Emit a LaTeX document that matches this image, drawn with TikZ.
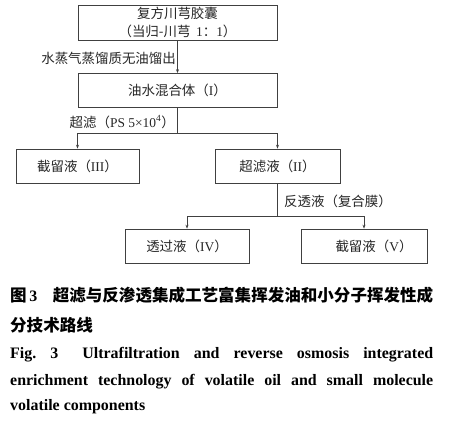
\documentclass[tikz,border=0pt]{standalone}
\usepackage{fontspec}
\setmainfont{Liberation Serif}
\newfontfamily\cn{Noto Sans CJK SC}
\usetikzlibrary{arrows.meta}
\begin{document}
\begin{tikzpicture}[x=1bp,y=-1bp,
  box/.style={draw=black!75, line width=0.7bp, minimum height=34bp, inner sep=0pt,
    font=\fontsize{13.5}{18}\selectfont, text=black!85, align=center},
  conn/.style={draw=black!75, line width=0.7bp},
  arr/.style={conn, -{Stealth[length=4bp,width=3bp]}},
  lbl/.style={inner sep=0pt, font=\fontsize{13.5}{16}\selectfont, text=black!85},
  captxt/.style={inner sep=0pt, anchor=base west, font=\fontsize{16}{20}\selectfont\bfseries}]
\useasboundingbox[fill=white] (0,0) rectangle (450,422);
\node[box, minimum width=199bp, minimum height=35bp] (b0) at (177.5,22.5)
  {{\cn 复方川芎胶囊}\\{\cn （当归-川芎}\,~1{\cn ：}1{\cn ）}};
\node[box, minimum width=199bp] (b1) at (177.5,90.5) {{\cn 油水混合体（}I{\cn ）}};
\node[box, minimum width=123bp] (b3) at (77.5,166) {{\cn 截留液（}III{\cn ）}};
\node[box, minimum width=125bp] (b2) at (277.5,166) {{\cn 超滤液（}II{\cn ）}};
\node[box, minimum width=124bp] (b4) at (187,246) {{\cn 透过液（}IV{\cn ）}};
\node[box, minimum width=126bp] (b5) at (364,246) {\hspace{20bp}{\cn 截留液（}V{\cn ）}};
\coordinate (j1) at (177.5,133);
\coordinate (j2) at (277.5,216);
\draw[arr] (b0.south) -- (b1.north);
\draw[conn] (b1.south) -- (j1);
\draw[arr] (j1) -| (b3.north);
\draw[arr] (j1) -| (b2.north);
\draw[conn] (b2.south) -- (j2);
\draw[arr] (j2) -| (b4.north);
\draw[arr] (j2) -| (b5.north);
\node[lbl, anchor=east] (l1) at (176,58) {\cn 水蒸气蒸馏质无油馏出};
\node[lbl, anchor=east] (l2) at (175,122) {{\cn 超滤（}PS 5×10\textsuperscript{4}{\cn ）}};
\node[lbl, anchor=west] (l3) at (284,201) {\cn 反透液（复合膜）};
\node[captxt] (c1) at (10,301) {\makebox[423bp][s]{{\fontsize{16.6}{20}\selectfont\cn 图}\,3\hfill{\fontsize{16.6}{20}\selectfont\cn 超滤与反渗透集成工艺富集挥发油和小分子挥发性成}}};
\node[captxt] (c2) at (10,331) {\fontsize{16.6}{20}\selectfont\cn 分技术路线};
\node[captxt] (e1) at (10,358) {\makebox[423bp][s]{Fig.~3\hspace{10bp} Ultrafiltration and reverse osmosis integrated}};
\node[captxt] (e2) at (10,385) {\makebox[423bp][s]{enrichment technology of volatile oil and small molecule}};
\node[captxt] (e3) at (10,410) {volatile components};
\end{tikzpicture}
\end{document}
